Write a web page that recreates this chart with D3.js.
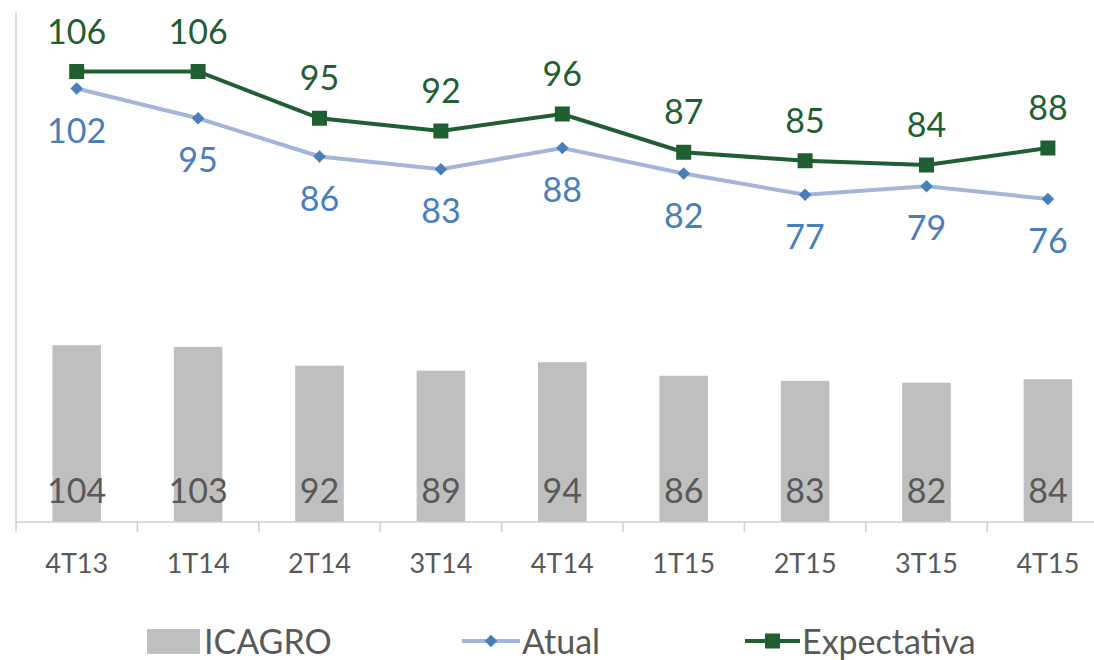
<!DOCTYPE html>
<html>
<head>
<meta charset="utf-8">
<script src="https://cdn.jsdelivr.net/npm/d3@7"></script>
<style>
  body { margin: 0; background: #fff; }
  text { font-family: Lato, "Open Sans", sans-serif; }
</style>
</head>
<body>
<script>
// chart data
var categories = ["4T13", "1T14", "2T14", "3T14", "4T14", "1T15", "2T15", "3T15", "4T15"];
var icagro = [104, 103, 92, 89, 94, 86, 83, 82, 84];
var atual = [102, 95, 86, 83, 88, 82, 77, 79, 76];
var expectativa = [106, 106, 95, 92, 96, 87, 85, 84, 88];

var width = 1094, height = 660;
var plotLeft = 16, plotTop = 12, plotBottom = 522;

var svg = d3.select("body").append("svg")
    .attr("width", width)
    .attr("height", height);

var x = d3.scaleBand()
    .domain(categories)
    .range([plotLeft, plotLeft + 9 * 121.4])
    .paddingInner(0)
    .paddingOuter(0);

var yBar = d3.scaleLinear().domain([0, 300]).range([plotBottom, plotTop]);
var yLine = d3.scaleLinear().domain([0, 120]).range([plotBottom, plotTop]);

var grey = "#595959";
var green = "#1f5f31";
var blue = "#4a7ebb";
var lightBlue = "#a3b6da";
var fs = "34px";

// bars
var barW = x.bandwidth() * 0.4;
svg.append("g").selectAll("rect")
    .data(icagro)
    .enter().append("rect")
    .attr("x", function (d, i) { return x(categories[i]) + x.bandwidth() / 2 - barW / 2; })
    .attr("y", function (d) { return yBar(d); })
    .attr("width", barW)
    .attr("height", function (d) { return plotBottom - yBar(d); })
    .style("fill", "#bfbfbf");

svg.append("g").selectAll("text")
    .data(icagro)
    .enter().append("text")
    .attr("x", function (d, i) { return x(categories[i]) + x.bandwidth() / 2; })
    .attr("y", 503)
    .attr("text-anchor", "middle")
    .style("font-size", fs)
    .style("fill", grey)
    .text(function (d) { return d; });

// axes
var xAxis = svg.append("g")
    .attr("transform", "translate(0," + plotBottom + ")")
    .call(d3.axisBottom(x).tickSize(0).tickPadding(0));
xAxis.select(".domain").remove();
xAxis.selectAll("text")
    .attr("dy", null)
    .attr("y", 51)
    .style("font-size", "27px").style("fill", grey)
    .style("font-family", "Lato, sans-serif");

svg.append("line")
    .attr("x1", plotLeft).attr("x2", width)
    .attr("y1", plotBottom).attr("y2", plotBottom)
    .style("stroke", "#d0d0d0").style("stroke-width", 1.5);
svg.append("line")
    .attr("x1", plotLeft).attr("x2", plotLeft)
    .attr("y1", plotTop).attr("y2", plotBottom)
    .style("stroke", "#d0d0d0").style("stroke-width", 1.5);
svg.append("g").selectAll("line")
    .data(categories)
    .enter().append("line")
    .attr("x1", function (d) { return x(d); })
    .attr("x2", function (d) { return x(d); })
    .attr("y1", plotBottom).attr("y2", plotBottom + 10)
    .style("stroke", "#d0d0d0").style("stroke-width", 1.5);

var cx = function (d, i) { return x(categories[i]) + x.bandwidth() / 2; };
var line = d3.line().x(cx).y(function (d) { return yLine(d); });

// Atual line
svg.append("path")
    .datum(atual)
    .attr("d", line)
    .style("fill", "none")
    .style("stroke", lightBlue)
    .style("stroke-width", 4);
svg.append("g").selectAll("path")
    .data(atual)
    .enter().append("path")
    .attr("d", d3.symbol().type(d3.symbolDiamond2).size(100))
    .attr("transform", function (d, i) { return "translate(" + cx(d, i) + "," + yLine(d) + ")"; })
    .style("fill", blue);
svg.append("g").selectAll("text")
    .data(atual)
    .enter().append("text")
    .attr("x", cx)
    .attr("y", function (d) { return yLine(d) + 54; })
    .attr("text-anchor", "middle")
    .style("font-size", fs)
    .style("fill", blue)
    .text(function (d) { return d; });

// Expectativa line
svg.append("path")
    .datum(expectativa)
    .attr("d", line)
    .style("fill", "none")
    .style("stroke", green)
    .style("stroke-width", 4);
svg.append("g").selectAll("rect")
    .data(expectativa)
    .enter().append("rect")
    .attr("x", function (d, i) { return cx(d, i) - 7.5; })
    .attr("y", function (d) { return yLine(d) - 7.5; })
    .attr("width", 15).attr("height", 15)
    .style("fill", green);
svg.append("g").selectAll("text")
    .data(expectativa)
    .enter().append("text")
    .attr("x", cx)
    .attr("y", function (d) { return yLine(d) - 28; })
    .attr("text-anchor", "middle")
    .style("font-size", fs)
    .style("fill", green)
    .text(function (d) { return d; });

// legend
var lg = svg.append("g").attr("transform", "translate(0,641)");
lg.append("rect").attr("x", 147).attr("y", -12).attr("width", 53).attr("height", 25).style("fill", "#bfbfbf");
lg.append("text").attr("x", 204).attr("y", 13).style("font-size", fs).style("fill", grey).text("ICAGRO");

lg.append("line").attr("x1", 462).attr("x2", 520).attr("y1", 0).attr("y2", 0)
    .style("stroke", lightBlue).style("stroke-width", 4);
lg.append("path").attr("d", d3.symbol().type(d3.symbolDiamond2).size(100))
    .attr("transform", "translate(491,0)").style("fill", blue);
lg.append("text").attr("x", 522).attr("y", 13).style("font-size", fs).style("fill", grey).text("Atual");

lg.append("line").attr("x1", 745).attr("x2", 800).attr("y1", 0).attr("y2", 0)
    .style("stroke", green).style("stroke-width", 4);
lg.append("rect").attr("x", 765).attr("y", -7.5).attr("width", 15).attr("height", 15).style("fill", green);
lg.append("text").attr("x", 802).attr("y", 13).style("font-size", fs).style("fill", grey).text("Expectativa");
</script>
</body>
</html>
